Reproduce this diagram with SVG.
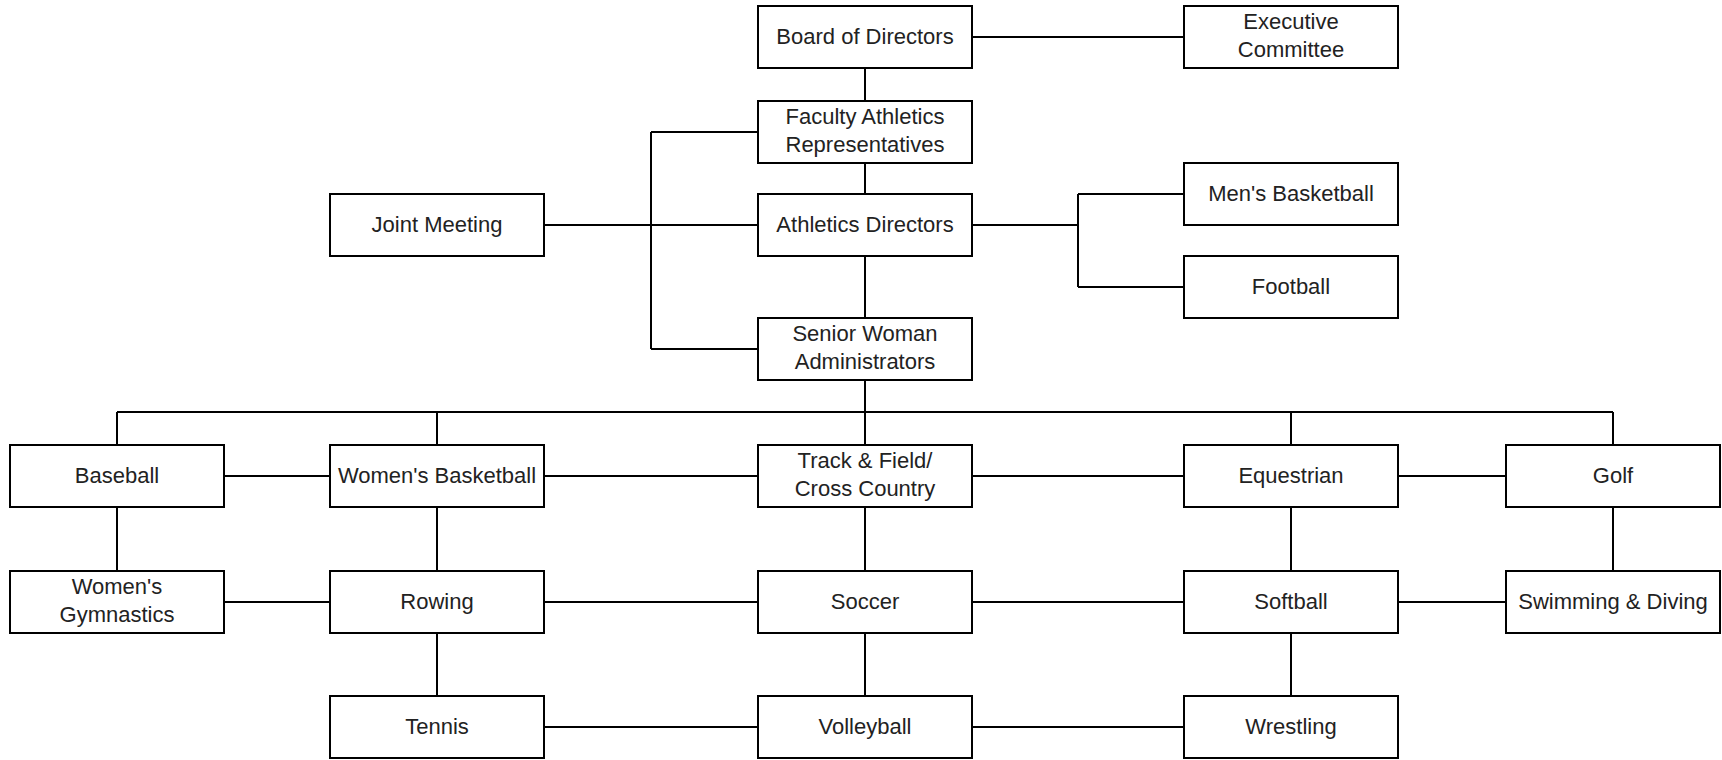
<svg xmlns="http://www.w3.org/2000/svg" width="1722" height="760" viewBox="0 0 1722 760">
<style>
.box{fill:#fff;stroke:#000;stroke-width:2}
.lbl{font-family:"Liberation Sans",Arial,sans-serif;font-size:22px;fill:#222;text-anchor:middle}
.con{fill:none;stroke:#000;stroke-width:2}
</style>
<rect width="1722" height="760" fill="#fff"/>
<g id="connectors" class="con">
<path d="M972 37H1184"/>
<path d="M865 68V101M865 163V194M865 256V318"/>
<path d="M651 132V349M651 132H758M544 225H758M651 349H758"/>
<path d="M972 225H1078M1078 194V287M1078 194H1184M1078 287H1184"/>
<path d="M865 380V445M117 412H1613M117 412V445M437 412V445M1291 412V445M1613 412V445"/>
<path d="M224 476H330M544 476H758M972 476H1184M1398 476H1506"/>
<path d="M117 507V571M437 507V571M865 507V571M1291 507V571M1613 507V571"/>
<path d="M224 602H330M544 602H758M972 602H1184M1398 602H1506"/>
<path d="M437 633V696M865 633V696M1291 633V696"/>
<path d="M544 727H758M972 727H1184"/>
</g>
<g id="board"><rect class="box" x="758" y="6" width="214" height="62"/><text class="lbl" x="865" y="44">Board of Directors</text></g>
<g id="exec"><rect class="box" x="1184" y="6" width="214" height="62"/><text class="lbl" x="1291" y="29">Executive</text><text class="lbl" x="1291" y="57">Committee</text></g>
<g id="faculty"><rect class="box" x="758" y="101" width="214" height="62"/><text class="lbl" x="865" y="124">Faculty Athletics</text><text class="lbl" x="865" y="152">Representatives</text></g>
<g id="joint"><rect class="box" x="330" y="194" width="214" height="62"/><text class="lbl" x="437" y="232">Joint Meeting</text></g>
<g id="ad"><rect class="box" x="758" y="194" width="214" height="62"/><text class="lbl" x="865" y="232">Athletics Directors</text></g>
<g id="mbb"><rect class="box" x="1184" y="163" width="214" height="62"/><text class="lbl" x="1291" y="201">Men's Basketball</text></g>
<g id="football"><rect class="box" x="1184" y="256" width="214" height="62"/><text class="lbl" x="1291" y="294">Football</text></g>
<g id="swa"><rect class="box" x="758" y="318" width="214" height="62"/><text class="lbl" x="865" y="341">Senior Woman</text><text class="lbl" x="865" y="369">Administrators</text></g>
<g id="baseball"><rect class="box" x="10" y="445" width="214" height="62"/><text class="lbl" x="117" y="483">Baseball</text></g>
<g id="wbb"><rect class="box" x="330" y="445" width="214" height="62"/><text class="lbl" x="437" y="483">Women's Basketball</text></g>
<g id="track"><rect class="box" x="758" y="445" width="214" height="62"/><text class="lbl" x="865" y="468">Track &amp; Field/</text><text class="lbl" x="865" y="496">Cross Country</text></g>
<g id="equestrian"><rect class="box" x="1184" y="445" width="214" height="62"/><text class="lbl" x="1291" y="483">Equestrian</text></g>
<g id="golf"><rect class="box" x="1506" y="445" width="214" height="62"/><text class="lbl" x="1613" y="483">Golf</text></g>
<g id="gym"><rect class="box" x="10" y="571" width="214" height="62"/><text class="lbl" x="117" y="594">Women's</text><text class="lbl" x="117" y="622">Gymnastics</text></g>
<g id="rowing"><rect class="box" x="330" y="571" width="214" height="62"/><text class="lbl" x="437" y="609">Rowing</text></g>
<g id="soccer"><rect class="box" x="758" y="571" width="214" height="62"/><text class="lbl" x="865" y="609">Soccer</text></g>
<g id="softball"><rect class="box" x="1184" y="571" width="214" height="62"/><text class="lbl" x="1291" y="609">Softball</text></g>
<g id="swim"><rect class="box" x="1506" y="571" width="214" height="62"/><text class="lbl" x="1613" y="609">Swimming &amp; Diving</text></g>
<g id="tennis"><rect class="box" x="330" y="696" width="214" height="62"/><text class="lbl" x="437" y="734">Tennis</text></g>
<g id="volleyball"><rect class="box" x="758" y="696" width="214" height="62"/><text class="lbl" x="865" y="734">Volleyball</text></g>
<g id="wrestling"><rect class="box" x="1184" y="696" width="214" height="62"/><text class="lbl" x="1291" y="734">Wrestling</text></g>
</svg>
